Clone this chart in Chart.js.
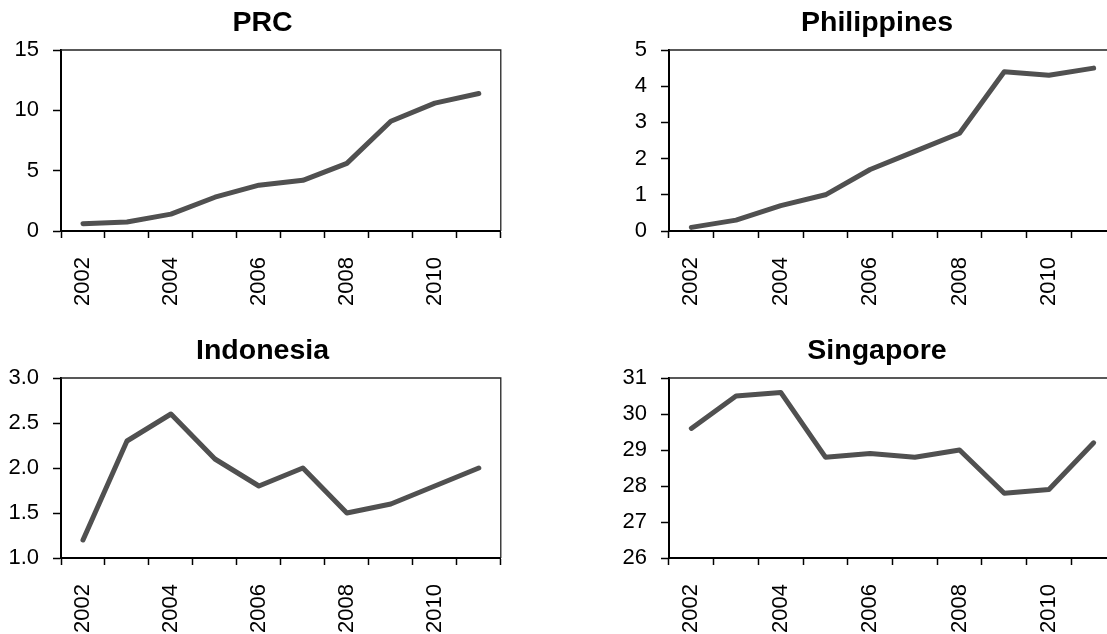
<!DOCTYPE html>
<html lang="en">
<head>
  <meta charset="UTF-8">
  <title>PRC, Philippines, Indonesia, Singapore</title>
  <script src="https://cdn.jsdelivr.net/npm/chart.js"></script>
  <style>
    html, body { margin: 0; padding: 0; background: #fff; overflow: hidden; }
    body { width: 1107px; height: 634px; position: relative; }
    canvas { position: absolute; }
  </style>
</head>
<body>
<canvas id="prc" width="525" height="320" style="left:0;top:0"></canvas>
<canvas id="philippines" width="538" height="320" style="left:608px;top:0"></canvas>
<canvas id="indonesia" width="525" height="306" style="left:0;top:328px"></canvas>
<canvas id="singapore" width="538" height="306" style="left:608px;top:328px"></canvas>

<script>
  // values
  const years = ['2002', '2003', '2004', '2005', '2006', '2007', '2008', '2009', '2010', '2011'];
  const shownYears = ['2002', '2004', '2006', '2008', '2010'];

  const prc = [0.6, 0.75, 1.4, 2.8, 3.8, 4.2, 5.6, 9.1, 10.6, 11.4];
  const philippines = [0.1, 0.3, 0.7, 1.0, 1.7, 2.2, 2.7, 4.4, 4.3, 4.5];
  const indonesia = [1.2, 2.3, 2.6, 2.1, 1.8, 2.0, 1.5, 1.6, 1.8, 2.0];
  const singapore = [29.6, 30.5, 30.6, 28.8, 28.9, 28.8, 29.0, 27.8, 27.9, 29.2];

  // y ranges: min, max, step
  const prcRange = [0, 15, 5];
  const philippinesRange = [0, 5, 1];
  const indonesiaRange = [1, 3, 0.5];
  const singaporeRange = [26, 31, 1];

  const FONT = '"Liberation Sans", Arial, sans-serif';

  // thin top and right border of the plot box
  const frame = {
    id: 'frame',
    beforeDatasetsDraw(chart) {
      const a = chart.chartArea;
      const ctx = chart.ctx;
      ctx.save();
      ctx.strokeStyle = '#222';
      ctx.lineWidth = 1.3;
      ctx.beginPath();
      ctx.moveTo(a.left, a.top);
      ctx.lineTo(a.right, a.top);
      ctx.lineTo(a.right, a.bottom);
      ctx.stroke();
      ctx.restore();
    }
  };

  function panel(id, title, values, range, plotBottom, rightPad, decimals) {
    const canvas = document.getElementById(id);
    const H = canvas.height;
    new Chart(canvas, {
      type: 'line',
      data: {
        labels: years,
        datasets: [{
          data: values,
          borderColor: '#505050',
          borderWidth: 5,
          borderCapStyle: 'round',
          borderJoinStyle: 'round',
          pointRadius: 0,
          tension: 0,
          fill: false
        }]
      },
      options: {
        responsive: false,
        animation: false,
        layout: { padding: 0 },
        plugins: {
          legend: { display: false },
          tooltip: { enabled: false },
          title: {
            display: true,
            text: title,
            color: '#000',
            font: { family: FONT, size: 28.5, weight: 'bold' },
            padding: { top: 6, bottom: 9.8 }
          }
        },
        scales: {
          x: {
            type: 'category',
            offset: true,
            grid: {
              offset: true,
              drawOnChartArea: false,
              tickLength: 7,
              tickColor: '#000',
              tickWidth: 1.5
            },
            border: { display: true, color: '#000', width: 2 },
            ticks: {
              autoSkip: false,
              minRotation: 90,
              maxRotation: 90,
              padding: 19,
              color: '#000',
              font: { family: FONT, size: 22 },
              callback: function (v) {
                const lab = this.getLabelForValue(v);
                return shownYears.includes(lab) ? lab : '';
              }
            },
            afterFit: s => { s.height = H - plotBottom; }
          },
          y: {
            min: range[0],
            max: range[1],
            grid: {
              drawOnChartArea: false,
              tickLength: 8,
              tickColor: '#000',
              tickWidth: 1.5
            },
            border: { display: true, color: '#000', width: 2 },
            ticks: {
              stepSize: range[2],
              padding: 14,
              color: '#000',
              font: { family: FONT, size: 22 },
              callback: v => v.toFixed(decimals)
            },
            afterFit: s => { s.width = 61; }
          },
          // empty right-hand space so the title stays centred on the whole panel
          yRight: {
            position: 'right',
            display: true,
            grid: { display: false },
            border: { display: false },
            ticks: { display: false },
            afterFit: s => { s.width = rightPad; }
          }
        }
      },
      plugins: [frame]
    });
  }

  panel('prc', 'PRC', prc, prcRange, 231, 16, 0);
  panel('philippines', 'Philippines', philippines, philippinesRange, 231, 30, 0);
  panel('indonesia', 'Indonesia', indonesia, indonesiaRange, 230, 16, 1);
  panel('singapore', 'Singapore', singapore, singaporeRange, 230, 30, 0);
</script>
</body>
</html>
